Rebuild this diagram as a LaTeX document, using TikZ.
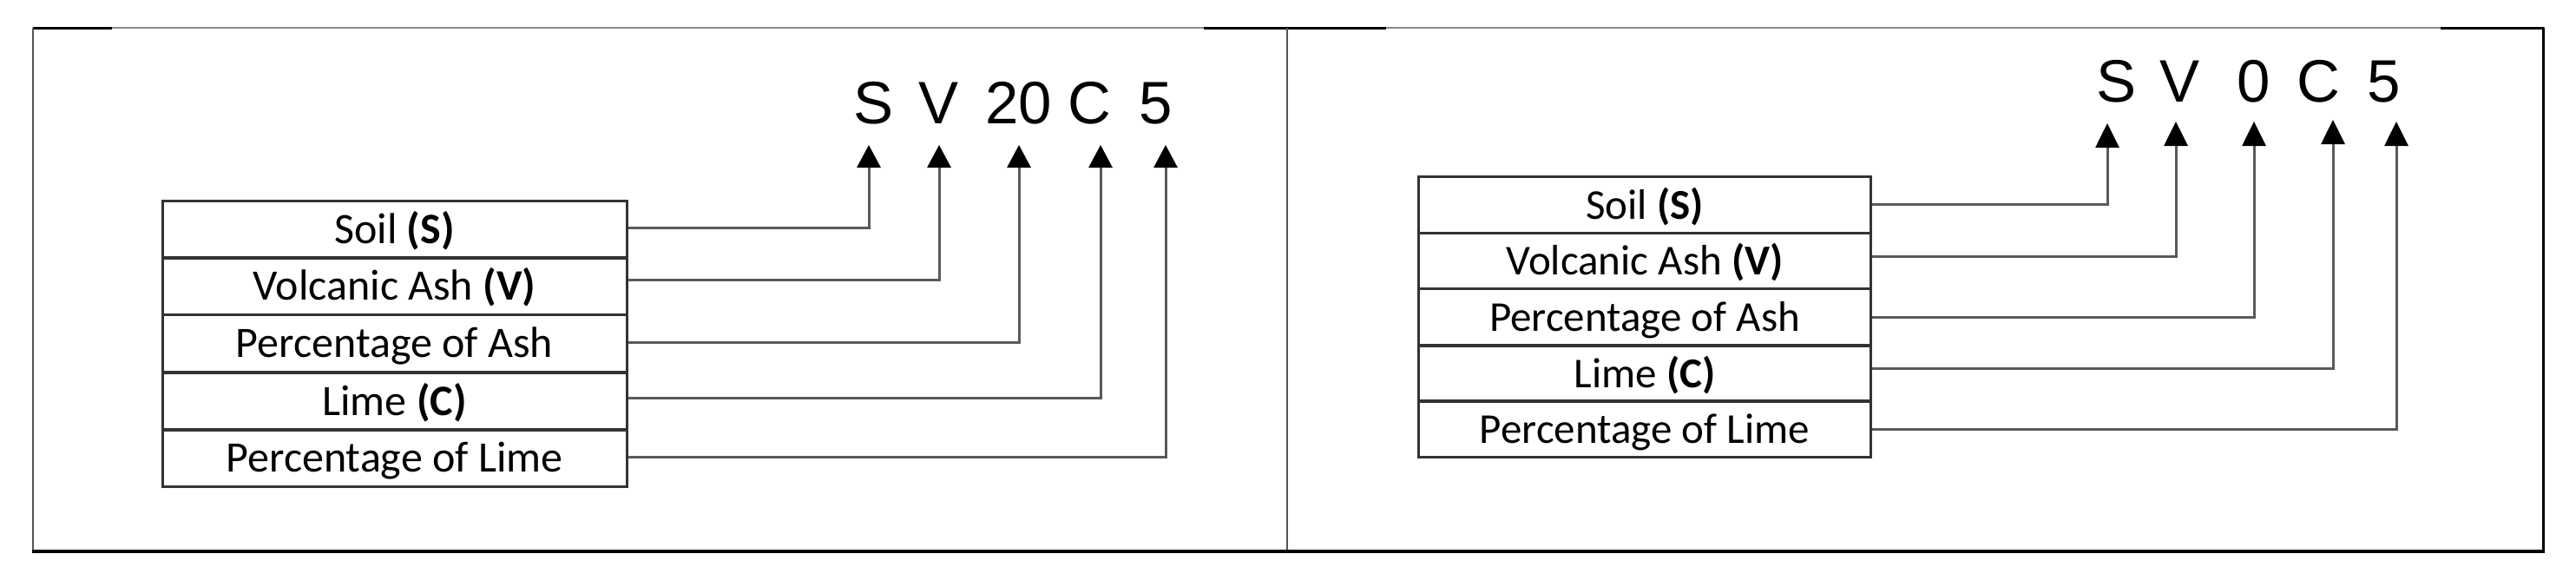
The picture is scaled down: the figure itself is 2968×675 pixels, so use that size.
\documentclass[tikz,border=0pt]{standalone}
\usepackage{fontspec}
\usetikzlibrary{arrows.meta,calc}
\newfontfamily\calib{Carlito}
\newfontfamily\arialf{Liberation Sans}
\definecolor{framegray}{HTML}{8A8A8A}
\definecolor{sidegray}{HTML}{555555}
\definecolor{boxline}{HTML}{333333}
\definecolor{connline}{HTML}{5A5A5A}
\begin{document}
\begin{tikzpicture}[x=1pt,y=-1pt,
  rowbox/.style={draw=boxline,line width=3pt,minimum width=535pt,minimum height=66pt,
    inner sep=0pt,text height=32pt,text depth=0pt,font=\calib\fontsize{50}{54}\selectfont},
  rowboxr/.style={rowbox,minimum width=521pt,minimum height=64.5pt,
    font=\calib\fontsize{49}{53}\selectfont},
  codeletter/.style={anchor=base,inner sep=0pt,font=\arialf\fontsize{69}{72}\selectfont},
  conn/.style={draw=connline,line width=3pt,-{Triangle[width=27pt,length=26pt,black]}},
  connr/.style={conn,-{Triangle[width=27pt,length=28pt,black]}}]
\useasboundingbox (0,0) rectangle (2968,675);
% outer frame
\draw[framegray,line width=2pt] (38,32) -- (2932,32);
\draw[black,line width=3pt] (38,32) -- (129,32);
\draw[black,line width=3pt] (1387,32) -- (1597,32);
\draw[black,line width=3pt] (2812,32) -- (2931,32);
\draw[sidegray,line width=2.5pt] (38,32) -- (38,635);
\draw[sidegray,line width=2.5pt] (1483,32) -- (1483,635);
\draw[black,line width=3pt] (2930,32) -- (2930,636);
\draw[black,line width=3.5pt] (37,635) -- (2932,635);
% ---------- left panel ----------
\node[rowbox] (L1) at (454.5,264) {Soil \textbf{(S)}};
\node[rowbox] (L2) at (454.5,329.5) {Volcanic Ash \textbf{(V)}};
\node[rowbox] (L3) at (454.5,395.5) {Percentage of Ash};
\node[rowbox] (L4) at (454.5,462) {Lime \textbf{(C)}};
\node[rowbox] (L5) at (454.5,527.5) {Percentage of Lime};
\node[codeletter] (LS) at (1006.7,142.5) {S};
\node[codeletter] (LV) at (1081,142.5) {V};
\node[codeletter] (LN) at (1173.8,142.5) {20};
\node[codeletter] (LC) at (1255,142.5) {C};
\node[codeletter] (LP) at (1332,142.5) {5};
\coordinate (aLS) at (1001,167);
\coordinate (aLV) at (1082,167);
\coordinate (aLN) at (1174,167);
\coordinate (aLC) at (1268,167);
\coordinate (aLP) at (1343,167);
\draw[conn] ($(L1.east)+(0,-1.5)$) -| (aLS);
\draw[conn] ($(L2.east)+(0,-7.5)$) -| (aLV);
\draw[conn] ($(L3.east)+(0,-1.5)$) -| (aLN);
\draw[conn] ($(L4.east)+(0,-4)$) -| (aLC);
\draw[conn] ($(L5.east)+(0,-1.5)$) -| (aLP);
% ---------- right panel ----------
\node[rowboxr] (R1) at (1895,236) {Soil \textbf{(S)}};
\node[rowboxr] (R2) at (1895,300.5) {Volcanic Ash \textbf{(V)}};
\node[rowboxr] (R3) at (1895,365) {Percentage of Ash};
\node[rowboxr] (R4) at (1895,430.5) {Lime \textbf{(C)}};
\node[rowboxr] (R5) at (1895,494) {Percentage of Lime};
\node[codeletter] (RS) at (2438,117.5) {S};
\node[codeletter] (RV) at (2511,117.5) {V};
\node[codeletter] (RN) at (2597,117.5) {0};
\node[codeletter] (RC) at (2671,117.5) {C};
\node[codeletter] (RP) at (2747,117.5) {5};
\coordinate (aRS) at (2428,142);
\coordinate (aRV) at (2507,140);
\coordinate (aRN) at (2597,140);
\coordinate (aRC) at (2688,138);
\coordinate (aRP) at (2761,140);
\draw[connr] ($(R1.east)+(0,-0.5)$) -| (aRS);
\draw[connr] ($(R2.east)+(0,-5.5)$) -| (aRV);
\draw[connr] (R3.east) -| (aRN);
\draw[connr] ($(R4.east)+(0,-6.5)$) -| (aRC);
\draw[connr] (R5.east) -| (aRP);
\end{tikzpicture}
\end{document}
